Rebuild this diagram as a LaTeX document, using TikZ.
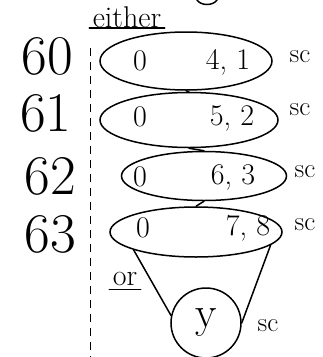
\documentclass[tikz,border=0pt]{standalone}
\usepackage{amsmath}
\usepackage{fontspec}
\usetikzlibrary{shapes.geometric}

\tikzset{
  pen/.style={line width=1.5pt, line cap=round},
  oval/.style={draw, ellipse, pen, inner sep=0pt},
  row/.style={font=\fontsize{56}{56}\selectfont},
  val/.style={font=\fontsize{30}{30}\selectfont},
  tag/.style={font=\fontsize{27}{27}\selectfont},
}

\begin{document}
\begin{tikzpicture}[x=1pt,y=-1pt]
\useasboundingbox (0,0) rectangle (323,357);
% row numbers
\node[row] (n60) at (47,56) {60};
\node[row] (n61) at (46,113) {61};
\node[row] (n62) at (50,176) {62};
\node[row] (n63) at (50,234) {63};
\draw[line width=1pt,dash pattern=on 8pt off 6pt] (90,48) -- (90,357);
% the four ovals
\node[oval,minimum width=172pt,minimum height=58pt] (e60) at (186,61) {};
\node[oval,minimum width=178pt,minimum height=55pt] (e61) at (189,120) {};
\node[oval,minimum width=165pt,minimum height=49pt] (e62) at (204,176) {};
\node[oval,minimum width=172pt,minimum height=50pt] (e63) at (196,232) {};
\draw[pen] (e60.south) -- (e61.north);
\draw[pen] (e61.south) -- (e62.north);
\draw[pen] (e62.south) -- (e63.north);
\node[val] (a60) at (140,61) {0};
\node[val] (b60) at (228,62) {4, 1};
\node[val] (a61) at (140,117) {0};
\node[val] (b61) at (232,118) {5, 2};
\node[val] (a62) at (140,177) {0};
\node[val] (b62) at (233,177) {6, 3};
\node[val] (a63) at (143,228) {0};
\node[val] (b63) at (248,228) {7, 8};
\node[tag] (s60) at (300,57) {sc};
\node[tag] (s61) at (300,110) {sc};
\node[tag] (s62) at (305,172) {sc};
\node[tag] (s63) at (305,225) {sc};
% either / or
\node[val] (either) at (127,17) {either};
\draw[pen] ([yshift=3pt]either.south west) -- ([yshift=3pt]either.south east);
\node[val] (or) at (125,279) {or};
\draw[pen] (or.south west) -- (or.south east);
% funnel down to y
\node[draw,circle,pen,minimum size=70pt] (cy) at (206,323) {};
\node[font=\fontsize{44}{44}\selectfont] (ly) at (cy) {y};
\node[tag] (sy) at (268,326) {sc};
\draw[pen] (e63.196) -- (cy.168);
\draw[pen] (e63.350) -- (cy.east);
\draw[pen] (197,0) .. controls (201,6) and (213,6) .. (217,0);
\end{tikzpicture}
\end{document}
